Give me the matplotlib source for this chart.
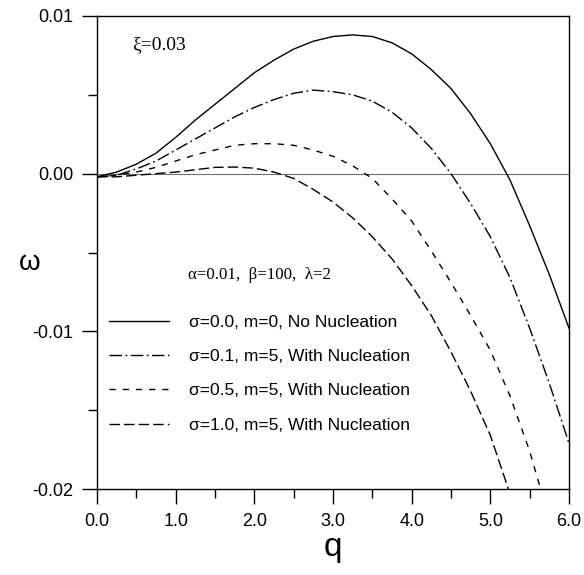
import matplotlib
matplotlib.use("Agg")
import matplotlib.pyplot as plt
from matplotlib.ticker import MultipleLocator, FixedLocator

plt.rcParams['font.family'] = ['Liberation Sans', 'DejaVu Sans']

# ---- data ----
q_grid = [0.0, 0.25, 0.5, 0.75, 1.0, 1.25, 1.5, 1.75, 2.0, 2.25, 2.5, 2.75,
          3.0, 3.25, 3.5, 3.75, 4.0, 4.25, 4.5, 4.75, 5.0, 5.25, 5.5, 5.75, 6.0]

w_s00 = [-0.0002, 0.0001, 0.0006, 0.0013, 0.0023, 0.0034, 0.0044, 0.0054, 0.0064,
         0.0072, 0.0079, 0.0084, 0.0087, 0.0088, 0.0087, 0.0083, 0.0076, 0.0066,
         0.0054, 0.0038, 0.0019, -0.0004, -0.0033, -0.0064, -0.0098]

w_s01 = [-0.0002, -0.0001, 0.0003, 0.0008, 0.0015, 0.0022, 0.0029, 0.0036, 0.0042,
         0.0047, 0.0051, 0.0053, 0.0052, 0.0050, 0.0046, 0.0039, 0.0029, 0.0016,
         0.0000, -0.0019, -0.0040, -0.0066, -0.0098, -0.0133, -0.0171]

q_s05 = [0.0, 0.25, 0.5, 0.75, 1.0, 1.25, 1.5, 1.75, 2.0, 2.25, 2.5, 2.75,
         3.0, 3.25, 3.5, 3.75, 4.0, 4.25, 4.5, 4.75, 5.0, 5.25, 5.5, 5.65]
w_s05 = [-0.0002, -0.0001, 0.0001, 0.0004, 0.0008, 0.0012, 0.0015, 0.0018, 0.0019,
         0.0019, 0.0018, 0.0015, 0.0011, 0.0005, -0.0003, -0.0016, -0.0030, -0.0049,
         -0.0069, -0.0090, -0.0112, -0.0141, -0.0176, -0.0202]

q_s10 = [0.0, 0.25, 0.5, 0.75, 1.0, 1.25, 1.5, 1.75, 2.0, 2.25, 2.5, 2.75,
         3.0, 3.25, 3.5, 3.75, 4.0, 4.25, 4.5, 4.75, 5.0, 5.25]
w_s10 = [-0.0002, -0.0002, -0.0001, 0.0000, 0.0001, 0.00025, 0.0004, 0.00042, 0.00035,
         0.0001, -0.0003, -0.0010, -0.0018, -0.0028, -0.0040, -0.0054, -0.0071,
         -0.0090, -0.0113, -0.0138, -0.0166, -0.0203]

labels = ["σ=0.0, m=0, No Nucleation",
          "σ=0.1, m=5, With Nucleation",
          "σ=0.5, m=5, With Nucleation",
          "σ=1.0, m=5, With Nucleation"]

x_ticks = [0, 1, 2, 3, 4, 5, 6]
x_ticklabels = ["0.0", "1.0", "2.0", "3.0", "4.0", "5.0", "6.0"]
y_ticks = [-0.02, -0.01, 0.0, 0.01]
y_ticklabels = ["-0.02", "-0.01", "0.00", "0.01"]

# ---- figure ----
fig = plt.figure(figsize=(5.84, 5.75), dpi=100)
ax = fig.add_axes([97/584, 1 - 489/575, (569-97)/584, (489-16)/575])

ax.axhline(0.0, color='#707070', lw=0.8, zorder=1)

lw = 1.0
l1, = ax.plot(q_grid, w_s00, color='black', lw=lw, ls='-')
l2, = ax.plot(q_grid, w_s01, color='black', lw=lw, ls=(0, (9, 2.5, 1.3, 2.5)))
l3, = ax.plot(q_s05, w_s05, color='black', lw=lw, ls=(0, (4.5, 5)))
l4, = ax.plot(q_s10, w_s10, color='black', lw=lw, ls=(0, (7.5, 3)))

ax.set_xlim(0, 6)
ax.set_ylim(-0.02, 0.01)
ax.xaxis.set_major_locator(FixedLocator(x_ticks))
ax.set_xticklabels(x_ticklabels)
ax.yaxis.set_major_locator(FixedLocator(y_ticks))
ax.set_yticklabels(y_ticklabels)
ax.xaxis.set_minor_locator(MultipleLocator(0.5))
ax.yaxis.set_minor_locator(MultipleLocator(0.005))
ax.tick_params(which='major', direction='out', length=11, width=1.0,
               labelsize=13, top=False, right=False, pad=6)
ax.tick_params(which='minor', direction='out', length=6.5, width=1.0,
               top=False, right=False)
for s in ax.spines.values():
    s.set_linewidth(1.0)

ax.set_xlabel("q", fontsize=24, labelpad=2)
ax.set_ylabel("ω", fontsize=20, rotation=0, va='center', ha='center')
ax.yaxis.set_label_coords(-0.142, 0.478)

ax.text(0.075, 0.939, "ξ=0.03", transform=ax.transAxes, fontsize=14,
        family=['Liberation Serif', 'DejaVu Serif'], va='center', ha='left')
ax.text(188, 575 - 275, "α=0.01,  β=100,  λ=2", transform=None, fontsize=12.2,
        family=['Liberation Serif', 'DejaVu Serif'], va='center', ha='left')

leg = ax.legend([l1, l2, l3, l4], labels, frameon=False, fontsize=12.5,
                handlelength=3.45, handletextpad=1.15, labelspacing=1.1,
                loc='upper left', bbox_to_anchor=(0.0, 0.394), borderaxespad=0.3)

fig.savefig("out.png", dpi=100)
